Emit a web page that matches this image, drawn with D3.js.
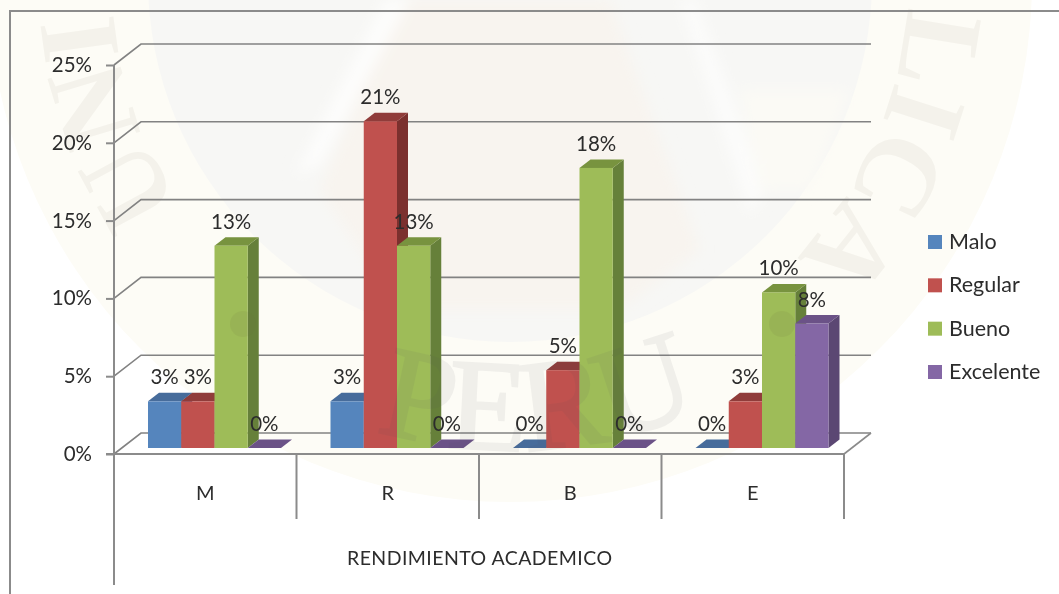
<!DOCTYPE html>
<html>
<head>
<meta charset="utf-8">
<script src="https://cdn.jsdelivr.net/npm/d3@7"></script>
<style>
  html, body { margin: 0; padding: 0; background: #fff; overflow: hidden; }
  svg { filter: blur(0.45px); }
  text { font-family: Lato, "Open Sans", sans-serif; fill: #2c2c2c; }
</style>
</head>
<body>
<div id="chart"></div>
<script>
const categories = ["M", "R", "B", "E"];
const seriesNames = ["Malo", "Regular", "Bueno", "Excelente"];
const malo = [3, 3, 0, 0];
const regular = [3, 21, 5, 3];
const bueno = [13, 13, 18, 10];
const excelente = [0, 0, 0, 8];
const yTicks = [0, 5, 10, 15, 20, 25];
const axisTitle = "RENDIMIENTO ACADEMICO";

const values = [malo, regular, bueno, excelente];

const width = 1059, height = 594;
const colours = [
  { front: "#5585bd", side: "#3f6188", top: "#476c9b" },
  { front: "#c0514e", side: "#7b302e", top: "#903c3a" },
  { front: "#9ebc58", side: "#66803a", top: "#78933f" },
  { front: "#8467a5", side: "#5b4773", top: "#6b5287" }
];
const lineColour = "#8b8b8b";

const svg = d3.select("#chart").append("svg")
  .attr("width", width)
  .attr("height", height)
  .attr("viewBox", [0, 0, width, height]);

const defs = svg.append("defs");
defs.append("filter").attr("id", "soft")
  .append("feGaussianBlur").attr("stdDeviation", 7);

// watermark behind the chart (university seal)
const cx = 510, cy = -20;
const seal = svg.append("g");
seal.append("circle").attr("cx", cx).attr("cy", cy).attr("r", 522).attr("fill", "#fdfcf6");
seal.append("circle").attr("cx", cx).attr("cy", cy).attr("r", 362).attr("fill", "#f7f7f5");

const scene = seal.append("g").attr("filter", "url(#soft)");
scene.append("path").attr("d", "M320,190 L400,0 L610,0 L700,250 L620,310 L400,310 Z").attr("fill", "#f8f4ef");
scene.append("path").attr("d", "M385,0 L410,0 L320,165 L295,175 Z").attr("fill", "#fdfdfc");
scene.append("path").attr("d", "M680,0 L695,0 L765,190 L750,215 Z").attr("fill", "#fcfcfb");
scene.append("path").attr("d", "M740,90 L850,90 L810,190 L760,190 Z").attr("fill", "#fbfaf5");

// ring letters, one arc per visible side of the seal
const ringR = 398;
const ringPoint = deg => [cx + ringR * Math.cos(deg * Math.PI / 180), cy + ringR * Math.sin(deg * Math.PI / 180)];
const ringArc = (from, to) => {
  const a = ringPoint(from), b = ringPoint(to);
  return `M${a[0]},${a[1]} A${ringR},${ringR} 0 0 1 ${b[0]},${b[1]}`;
};
defs.append("path").attr("id", "ringLeft").attr("d", ringArc(144, 177));
defs.append("path").attr("id", "ringRight").attr("d", ringArc(2, 46));
defs.append("path").attr("id", "peruArc")
  .attr("d", `M${cx - 470},${cy} A470,470 0 0 0 ${cx + 470},${cy}`);

[["#ringLeft", "UNI"], ["#ringRight", "LICA"]].forEach(([href, letters]) => {
  seal.append("text")
    .attr("font-size", 112)
    .style("font-family", "'Liberation Serif', serif")
    .style("font-weight", "bold")
    .style("fill", "#f4f2eb")
    .append("textPath")
    .attr("href", href)
    .attr("startOffset", "50%")
    .attr("text-anchor", "middle")
    .text(letters);
});

// outer frame
svg.append("path")
  .attr("d", `M10,594 V11 H${width}`)
  .attr("fill", "none")
  .attr("stroke", lineColour)
  .attr("stroke-width", 2);

const x0 = d3.scaleBand().domain(categories).range([114, 844]);
const x1 = d3.scaleBand().domain(seriesNames).range([34, 167]);
const y = d3.scaleLinear().domain([0, 25]).range([454, 65]);

// 3d offsets
const wallX = 27, wallY = -21;
const barLift = 6, depthX = 11, depthY = -8.5;

// back wall gridlines
svg.append("g").selectAll("path")
  .data(yTicks)
  .join("path")
    .attr("d", d => `M${x0.range()[0]},${y(d)} l${wallX},${wallY} H${x0.range()[1] + wallX}`)
    .attr("fill", "none")
    .attr("stroke", "#828282")
    .attr("stroke-width", 1.6);

// right edge of the floor
svg.append("path")
  .attr("d", `M${x0.range()[1]},${y(0)} l${wallX},${wallY}`)
  .attr("stroke", lineColour)
  .attr("stroke-width", 1.6);

// y axis
const yAxis = svg.append("g")
  .attr("transform", `translate(${x0.range()[0]},0)`)
  .call(d3.axisLeft(y).tickValues(yTicks).tickFormat(d => d + "%").tickSize(8).tickPadding(14));
yAxis.select(".domain").remove();
yAxis.selectAll("line").attr("stroke", lineColour).attr("stroke-width", 2);
yAxis.selectAll("text").attr("font-size", 20.5).attr("font-family", null);

svg.append("line")
  .attr("x1", x0.range()[0]).attr("x2", x0.range()[0])
  .attr("y1", y(25)).attr("y2", 585)
  .attr("stroke", lineColour).attr("stroke-width", 2);

// x axis and category dividers
svg.append("line")
  .attr("x1", x0.range()[0] - 8).attr("x2", x0.range()[1])
  .attr("y1", y(0)).attr("y2", y(0))
  .attr("stroke", lineColour).attr("stroke-width", 2);

svg.append("g").selectAll("line")
  .data(categories)
  .join("line")
    .attr("x1", d => x0(d) + x0.bandwidth())
    .attr("x2", d => x0(d) + x0.bandwidth())
    .attr("y1", y(0))
    .attr("y2", 519)
    .attr("stroke", lineColour)
    .attr("stroke-width", 2);

svg.append("g").selectAll("text")
  .data(categories)
  .join("text")
    .attr("x", d => x0(d) + x0.bandwidth() / 2)
    .attr("y", 500)
    .attr("text-anchor", "middle")
    .attr("font-size", 20)
    .text(d => d);

svg.append("text")
  .attr("x", 479.5)
  .attr("y", 565)
  .attr("text-anchor", "middle")
  .attr("font-size", 19.5)
  .attr("textLength", 265)
  .text(axisTitle);

// bars, left to right so that each one covers the side of the previous one
const barData = categories.flatMap((c, i) =>
  seriesNames.map((s, j) => ({ category: c, series: s, index: j, value: values[j][i] })));

const bar = svg.append("g").selectAll("g")
  .data(barData)
  .join("g")
    .attr("transform", d => `translate(${x0(d.category) + x1(d.series)},${-barLift})`);

bar.append("path")
  .attr("fill", d => colours[d.index].side)
  .attr("d", d => `M${x1.bandwidth()},${y(d.value)} l${depthX},${depthY} V${y(0) + depthY} l${-depthX},${-depthY} Z`);

bar.append("path")
  .attr("fill", d => colours[d.index].top)
  .attr("d", d => `M0,${y(d.value)} l${depthX},${depthY} h${x1.bandwidth()} l${-depthX},${-depthY} Z`);

bar.append("rect")
  .attr("fill", d => colours[d.index].front)
  .attr("y", d => y(d.value))
  .attr("width", x1.bandwidth())
  .attr("height", d => y(0) - y(d.value));

// the seal's lettering and dots show through the bars
svg.append("text")
  .attr("font-size", 130)
  .style("font-family", "'Liberation Serif', serif")
  .style("fill", "#50505a")
  .style("stroke", "#50505a")
  .style("stroke-width", 2.5)
  .attr("opacity", 0.07)
  .append("textPath")
  .attr("href", "#peruArc")
  .attr("startOffset", "52%")
  .attr("text-anchor", "middle")
  .text("PERU");

svg.append("g").selectAll("circle")
  .data([243, 782])
  .join("circle")
    .attr("cx", d => d)
    .attr("cy", 324)
    .attr("r", 13)
    .attr("fill", "#6f6a3c")
    .attr("opacity", 0.1);

// value labels on top of everything
svg.append("g").selectAll("text")
  .data(barData)
  .join("text")
    .attr("x", d => x0(d.category) + x1(d.series) + x1.bandwidth() / 2)
    .attr("y", d => y(d.value) - barLift - 17)
    .attr("text-anchor", "middle")
    .attr("font-size", 20.5)
    .text(d => d.value + "%");

// legend
const legendY = d3.scalePoint().domain(seriesNames).range([242, 372]);

const legend = svg.append("g").selectAll("g")
  .data(seriesNames)
  .join("g")
    .attr("transform", d => `translate(928,${legendY(d)})`);

legend.append("rect")
  .attr("y", -7)
  .attr("width", 14)
  .attr("height", 14)
  .attr("fill", (d, i) => colours[i].front);

legend.append("text")
  .attr("x", 21)
  .attr("y", 7)
  .attr("font-size", 21.5)
  .text(d => d);
</script>
</body>
</html>
